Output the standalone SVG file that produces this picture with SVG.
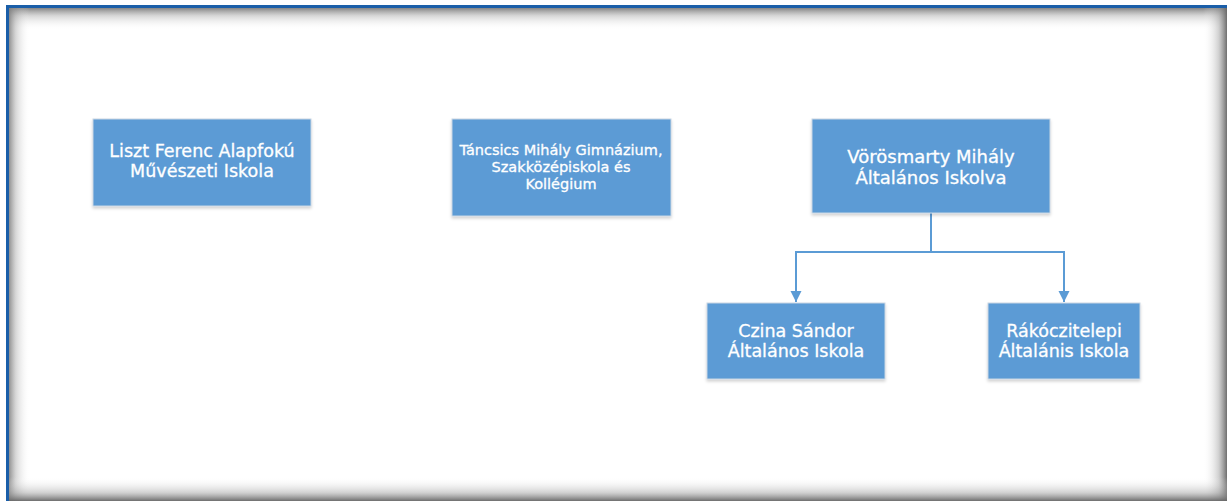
<svg xmlns="http://www.w3.org/2000/svg" width="1227" height="501" viewBox="0 0 1227 501">
<defs>
<style>
.box{fill:#5B9BD5;stroke:#C9D6E3;stroke-width:1;filter:url(#sh)}
.t{font-family:"DejaVu Sans",Verdana,sans-serif;fill:#FFFFFF;text-anchor:middle;stroke:#FFFFFF;stroke-width:0.3}
.c{fill:none;stroke:#5B9BD5;stroke-width:2}
</style>
<filter id="sh" x="-10%" y="-10%" width="120%" height="130%">
<feDropShadow dx="0" dy="2" stdDeviation="1.5" flood-color="#000" flood-opacity="0.18"/>
</filter>
<linearGradient id="gt" x1="0" y1="0" x2="0" y2="1"><stop offset="0" stop-color="#777" stop-opacity="0.9"/><stop offset="0.35" stop-color="#999" stop-opacity="0.4"/><stop offset="1" stop-color="#fff" stop-opacity="0"/></linearGradient>
<linearGradient id="gl" x1="0" y1="0" x2="1" y2="0"><stop offset="0" stop-color="#777" stop-opacity="0.9"/><stop offset="0.35" stop-color="#999" stop-opacity="0.4"/><stop offset="1" stop-color="#fff" stop-opacity="0"/></linearGradient>
<linearGradient id="gr" x1="1" y1="0" x2="0" y2="0"><stop offset="0" stop-color="#666" stop-opacity="0.95"/><stop offset="0.35" stop-color="#999" stop-opacity="0.45"/><stop offset="1" stop-color="#fff" stop-opacity="0"/></linearGradient>
<linearGradient id="gb" x1="0" y1="1" x2="0" y2="0"><stop offset="0" stop-color="#666" stop-opacity="0.95"/><stop offset="0.35" stop-color="#999" stop-opacity="0.45"/><stop offset="1" stop-color="#fff" stop-opacity="0"/></linearGradient>
<marker id="arr" viewBox="0 0 12 12" refX="12" refY="6" markerWidth="11" markerHeight="13" markerUnits="userSpaceOnUse" orient="auto">
<path d="M0,0 L12,6 L0,12 Z" fill="#5B9BD5"/>
</marker>
</defs>
<rect width="1227" height="501" fill="#FFFFFF"/>
<g id="frame">
<rect x="8" y="8" width="1219" height="22" fill="url(#gt)"/>
<rect x="8" y="8" width="22" height="493" fill="url(#gl)"/>
<rect x="1203" y="8" width="24" height="493" fill="url(#gr)"/>
<rect x="8" y="477" width="1219" height="24" fill="url(#gb)"/>
<rect x="6" y="5" width="1221" height="3" fill="#1A5EA8"/>
<rect x="6" y="5" width="3" height="496" fill="#1A5EA8"/>
</g>
<g id="connectors">
<path class="c" d="M931,213 V252"/>
<path class="c" d="M796,252 H1064"/>
<path class="c" d="M796,251 V302" marker-end="url(#arr)"/>
<path class="c" d="M1064,251 V302" marker-end="url(#arr)"/>
</g>
<g id="n1">
<rect class="box" x="93" y="119" width="218" height="87"/>
<text class="t" font-size="17.5"><tspan x="202" y="157">Liszt Ferenc Alapfokú</tspan><tspan x="202" y="177">Művészeti Iskola</tspan></text>
</g>
<g id="n2">
<rect class="box" x="452" y="119" width="219" height="97"/>
<text class="t" font-size="14.5"><tspan x="561" y="155">Táncsics Mihály Gimnázium,</tspan><tspan x="561" y="172">Szakközépiskola és</tspan><tspan x="561" y="189">Kollégium</tspan></text>
</g>
<g id="n3">
<rect class="box" x="812" y="119" width="238" height="94"/>
<text class="t" font-size="18"><tspan x="931" y="163">Vörösmarty Mihály</tspan><tspan x="931" y="184">Általános Iskolva</tspan></text>
</g>
<g id="n4">
<rect class="box" x="707" y="303" width="178" height="76"/>
<text class="t" font-size="17.5"><tspan x="796" y="337">Czina Sándor</tspan><tspan x="796" y="357">Általános Iskola</tspan></text>
</g>
<g id="n5">
<rect class="box" x="988" y="303" width="152" height="76"/>
<text class="t" font-size="17.5"><tspan x="1064" y="337">Rákóczitelepi</tspan><tspan x="1064" y="357">Általánis Iskola</tspan></text>
</g>
</svg>
